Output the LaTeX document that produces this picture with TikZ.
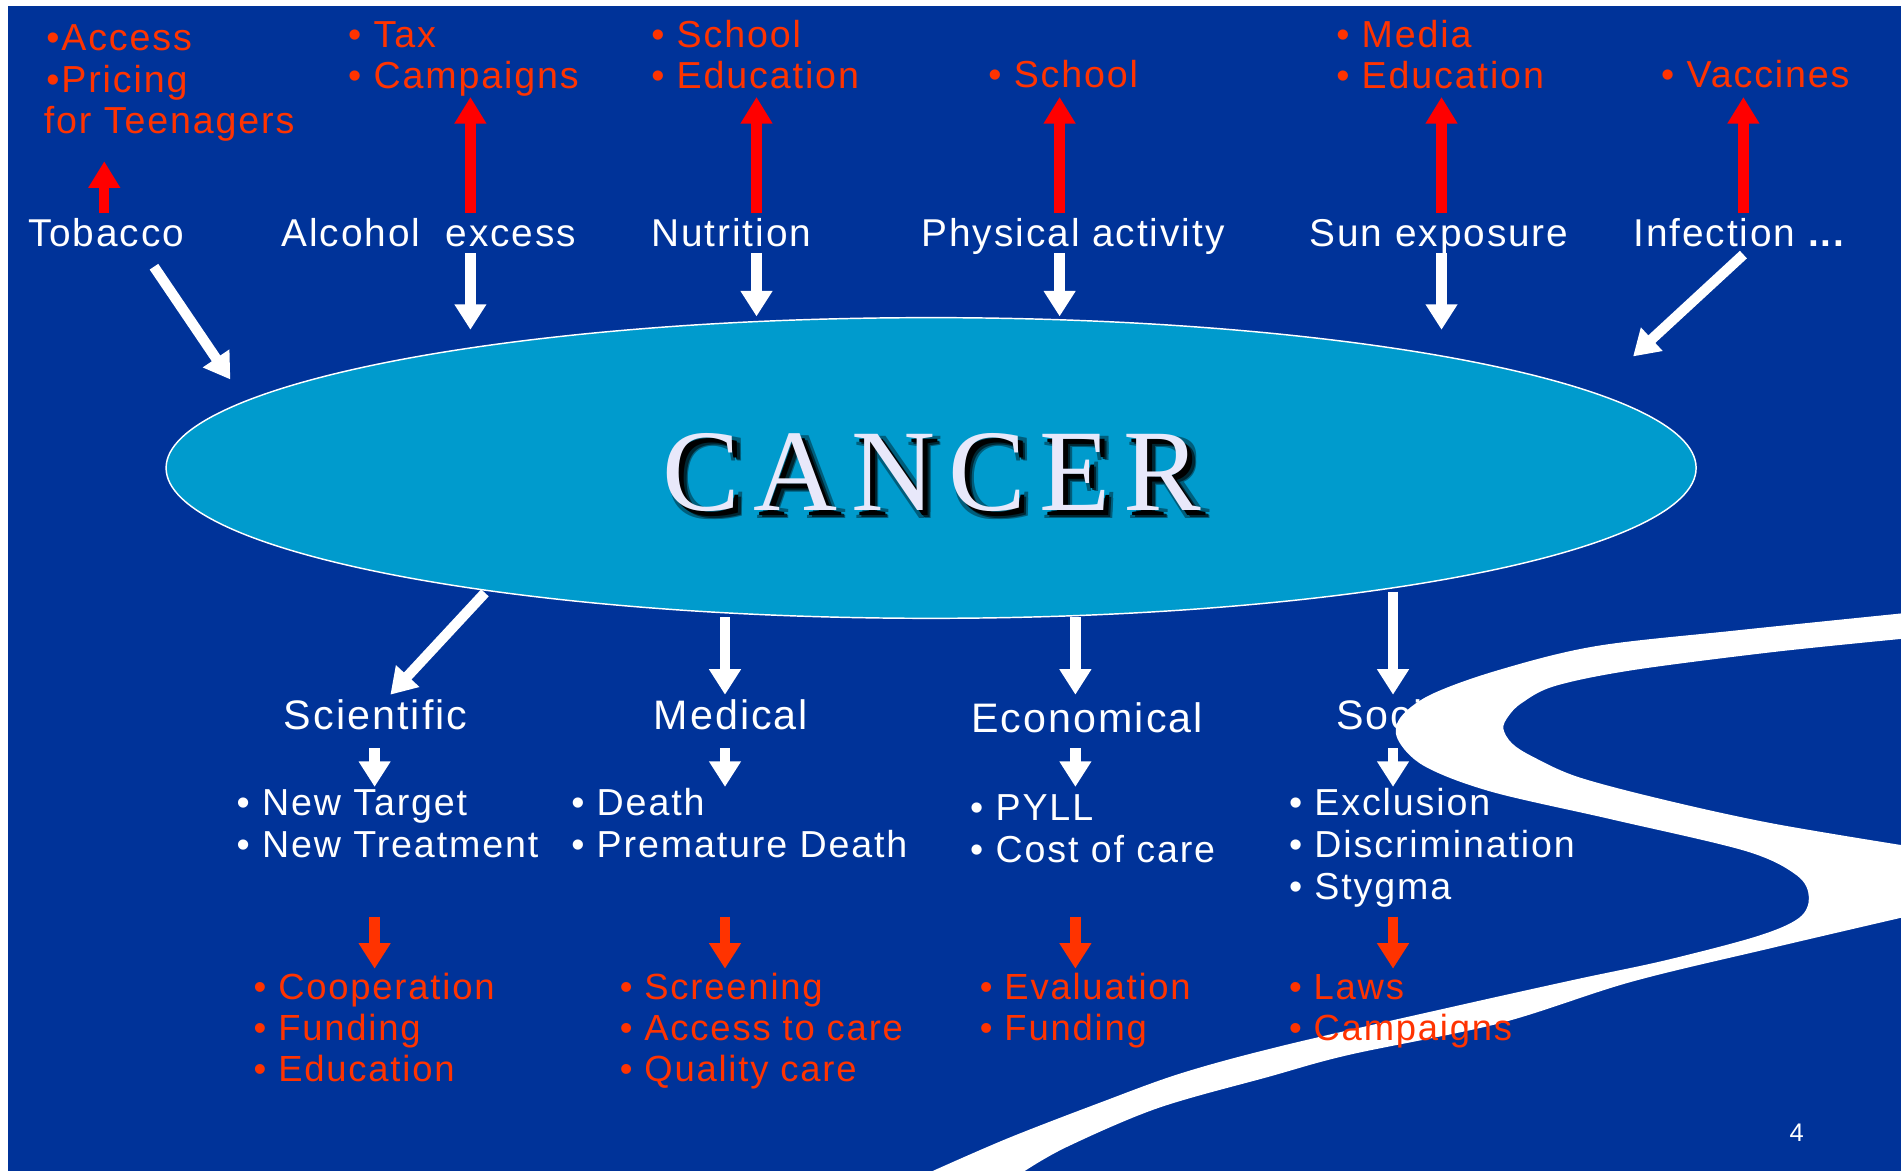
\documentclass[tikz,border=0pt]{standalone}
\usepackage{fontspec}
\setmainfont{Liberation Sans}[LetterSpace=5]
\newfontfamily\cancerfont{Liberation Serif}
\usetikzlibrary{arrows.meta,shapes.geometric}
\definecolor{bgblue}{RGB}{0,51,153}
\definecolor{cyanfill}{RGB}{0,155,205}
\definecolor{redtxt}{RGB}{255,51,0}
\definecolor{redarrow}{RGB}{255,0,0}
\definecolor{lavw}{RGB}{232,232,250}
\newcommand\canctext{C\kern11pt A\kern11pt N\kern11pt C\kern11pt E\kern11pt R}
\newcommand\shadowlayer[3]{\makebox[0pt][l]{\kern#1\raisebox{#2}{\color{#3}\canctext}}}
\begin{document}
\begin{tikzpicture}[x=1pt,y=-1pt,
  lbl/.style={anchor=base west, inner sep=0pt, text=white, font=\fontsize{32}{34}\selectfont},
  head/.style={anchor=base west, inner sep=0pt, text=white, font=\fontsize{34}{36}\selectfont},
  toplist/.style={anchor=base west, inner sep=0pt, text=redtxt, font=\fontsize{31}{34}\selectfont},
  wlist/.style={anchor=base west, inner sep=0pt, text=white, font=\fontsize{31}{34.5}\selectfont},
  rlist/.style={anchor=base west, inner sep=0pt, text=redtxt, font=\fontsize{30}{34}\selectfont},
  cstyle/.style={anchor=base, inner sep=0pt, font=\cancerfont\fontsize{96}{100}\selectfont},
  warrow/.style={draw=white, line width=8.5pt, -{Triangle[width=25pt,length=21pt]}},
  rarrow/.style={draw=redarrow, line width=8.5pt, -{Triangle[width=25pt,length=22pt]}},
  oarrow/.style={draw=redtxt, line width=8.5pt, -{Triangle[width=25pt,length=21pt]}},
]
\useasboundingbox (0,0) rectangle (1568,966);
\fill[white] (0,0) rectangle (1568,966);
\fill[bgblue] (7,5) rectangle (1568,966);

% central ellipse
\node[ellipse, draw=white, line width=1.2pt, fill=cyanfill, minimum width=1262pt, minimum height=248pt, inner sep=0pt] (cancer) at (768,386) {};
\node[cstyle, text=lavw] (cancertxt) at (769,421) {%
  \shadowlayer{7pt}{-7pt}{cyanfill!60!black}%
  \shadowlayer{2pt}{-7pt}{cyanfill!60!black}%
  \shadowlayer{7pt}{-2pt}{cyanfill!60!black}%
  \shadowlayer{6pt}{-6pt}{cyanfill!25!black}%
  \shadowlayer{4pt}{-4pt}{black}%
  \canctext};

% top labels
\node[lbl] (tob) at (23,203) {Tobacco};
\node[lbl] (alc) at (232,203) {Alcohol\ \ excess};
\node[lbl] (nut) at (537,203) {Nutrition};
\node[lbl] (phy) at (760,203) {Physical activity};
\node[lbl] (sun) at (1080,203) {Sun exposure};
\node[lbl] (inf) at (1347,203) {Infection \textbf{...}};

% top red lists
\node[toplist] (acc) at (38,42) {\vtop{\hbox{•Access}\hbox{•Pricing}\hbox{\kern-2pt for Teenagers}}};
\node[toplist] (tax) at (287,39) {\vtop{\hbox{• Tax}\hbox{• Campaigns}}};
\node[toplist] (schA) at (537,39) {\vtop{\hbox{• School}\hbox{• Education}}};
\node[toplist] (schB) at (815,72) {• School};
\node[toplist] (media) at (1102,39) {\vtop{\hbox{• Media}\hbox{• Education}}};
\node[toplist] (vacc) at (1370,72) {• Vaccines};

% top arrow coordinates
\coordinate (r1a) at (86,176);   \coordinate (r1b) at (86,133);
\coordinate (r2a) at (388,176);  \coordinate (r2b) at (388,80);
\coordinate (r3a) at (624,176);  \coordinate (r3b) at (624,80);
\coordinate (r4a) at (874,176);  \coordinate (r4b) at (874,80);
\coordinate (r5a) at (1189,176); \coordinate (r5b) at (1189,80);
\coordinate (r6a) at (1438,176); \coordinate (r6b) at (1438,80);
\draw[rarrow] (r1a) -- (r1b);
\draw[rarrow] (r2a) -- (r2b);
\draw[rarrow] (r3a) -- (r3b);
\draw[rarrow] (r4a) -- (r4b);
\draw[rarrow] (r5a) -- (r5b);
\draw[rarrow] (r6a) -- (r6b);

\coordinate (w1a) at (127,220);  \coordinate (w1b) at (190,313);
\coordinate (w2a) at (388,209);  \coordinate (w2b) at (388,272);
\coordinate (w3a) at (624,209);  \coordinate (w3b) at (624,261);
\coordinate (w4a) at (874,209);  \coordinate (w4b) at (874,261);
\coordinate (w5a) at (1189,209); \coordinate (w5b) at (1189,272);
\coordinate (w6a) at (1438,210); \coordinate (w6b) at (1347,294);
\draw[warrow] (w1a) -- (w1b);
\draw[warrow] (w2a) -- (w2b);
\draw[warrow] (w3a) -- (w3b);
\draw[warrow] (w4a) -- (w4b);
\draw[warrow] (w5a) -- (w5b);
\draw[warrow] (w6a) -- (w6b);

% bottom headings
\node[head] (sci) at (234,602) {Scientific};
\node[head] (med) at (539,602) {Medical};
\node[head] (eco) at (801,604) {Economical};
\node[head] (soc) at (1102,602) {Social};

% bottom arrows from ellipse
\coordinate (b1a) at (400,489);  \coordinate (b1b) at (322,573);
\coordinate (b2a) at (598,509);  \coordinate (b2b) at (598,573);
\coordinate (b3a) at (887,509);  \coordinate (b3b) at (887,573);
\coordinate (b4a) at (1149,488); \coordinate (b4b) at (1149,573);
\draw[warrow] (b1a) -- (b1b);
\draw[warrow] (b2a) -- (b2b);
\draw[warrow] (b3a) -- (b3b);
\draw[warrow] (b4a) -- (b4b);

% river
\fill[white] plot[smooth, tension=0.55] coordinates {(1568,506) (1432,520) (1316,533) (1235,553) (1180,573) (1155,592) (1153,610) (1175,632) (1230,653) (1330,676) (1440,702) (1482,722) (1492,740) (1484,757) (1450,772) (1374,792) (1299,808) (1200,830) (1060,862) (975,885) (906,910) (831,939) (769,966)}
  -- (845,966)
  -- plot[smooth, tension=0.55] coordinates {(845,966) (880,946) (955,914) (1047,888) (1113,870) (1237,844) (1345,810) (1461,782) (1568,757)}
  -- (1568,697)
  -- plot[smooth, tension=0.55] coordinates {(1568,697) (1461,679) (1374,660) (1302,641) (1264,624) (1247,613) (1240,601) (1244,591) (1255,580) (1282,566) (1345,553) (1461,538) (1568,527)}
  -- cycle;

% small arrows below headings
\coordinate (s1a) at (309,617);  \coordinate (s1b) at (309,649);
\coordinate (s2a) at (598,617);  \coordinate (s2b) at (598,649);
\coordinate (s3a) at (887,617);  \coordinate (s3b) at (887,649);
\coordinate (s4a) at (1149,617); \coordinate (s4b) at (1149,649);
\draw[warrow] (s1a) -- (s1b);
\draw[warrow] (s2a) -- (s2b);
\draw[warrow] (s3a) -- (s3b);
\draw[warrow] (s4a) -- (s4b);

% white lists
\node[wlist] (scil) at (195,673) {\vtop{\hbox{• New Target}\hbox{• New Treatment}}};
\node[wlist] (medl) at (471,673) {\vtop{\hbox{• Death}\hbox{• Premature Death}}};
\node[wlist] (ecol) at (800,677) {\vtop{\hbox{• PYLL}\hbox{• Cost of care}}};
\node[wlist] (socl) at (1063,673) {\vtop{\hbox{• Exclusion}\hbox{• Discrimination}\hbox{• Stygma}}};

% red arrows down
\coordinate (o1a) at (309,756);  \coordinate (o1b) at (309,799);
\coordinate (o2a) at (598,756);  \coordinate (o2b) at (598,799);
\coordinate (o3a) at (887,756);  \coordinate (o3b) at (887,799);
\coordinate (o4a) at (1149,756); \coordinate (o4b) at (1149,799);
\draw[oarrow] (o1a) -- (o1b);
\draw[oarrow] (o2a) -- (o2b);
\draw[oarrow] (o3a) -- (o3b);
\draw[oarrow] (o4a) -- (o4b);

% red lists
\node[rlist] (scir) at (209,824) {\vtop{\hbox{• Cooperation}\hbox{• Funding}\hbox{• Education}}};
\node[rlist] (medr) at (511,824) {\vtop{\hbox{• Screening}\hbox{• Access to care}\hbox{• Quality care}}};
\node[rlist] (ecor) at (808,824) {\vtop{\hbox{• Evaluation}\hbox{• Funding}}};
\node[rlist] (socr) at (1063,824) {\vtop{\hbox{• Laws}\hbox{• Campaigns}}};

% page number
\node[text=white, inner sep=0pt, font=\fontsize{21}{23}\selectfont] (pg) at (1482,934) {4};
\end{tikzpicture}
\end{document}
